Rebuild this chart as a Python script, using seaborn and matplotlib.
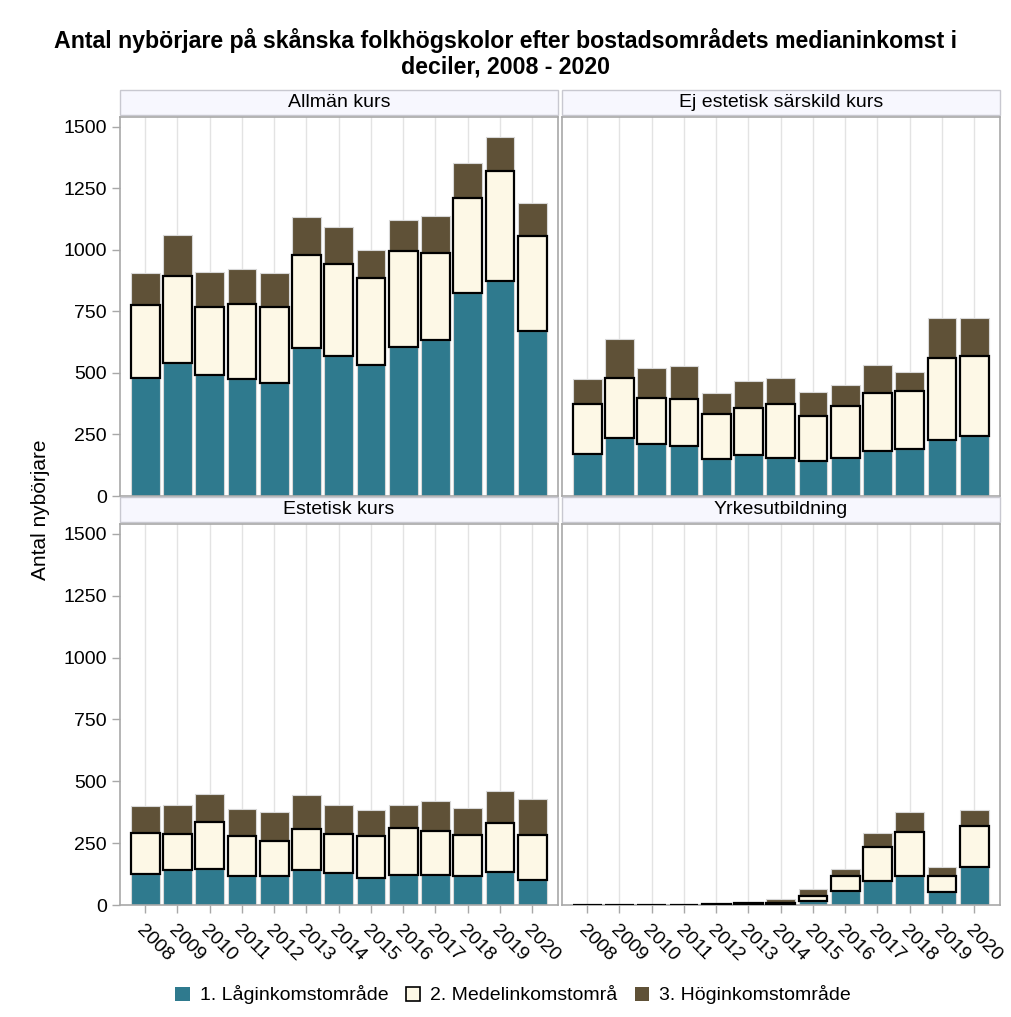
import pandas as pd
import seaborn as sns
import matplotlib.pyplot as plt
from matplotlib.patches import Patch, Rectangle

years = list(range(2008, 2021))
groups = ["1. Låginkomstområde", "2. Medelinkomstområ", "3. Höginkomstområde"]
courses = ["Allmän kurs", "Ej estetisk särskild kurs", "Estetisk kurs", "Yrkesutbildning"]

# values per group
allman_low = [478, 542, 493, 475, 460, 603, 568, 533, 607, 635, 823, 873, 672]
allman_mid = [300, 351, 275, 305, 310, 375, 374, 354, 388, 352, 387, 447, 385]
allman_high = [127, 169, 142, 142, 135, 154, 150, 113, 127, 151, 142, 140, 133]

ej_low = [172, 237, 210, 205, 152, 167, 153, 142, 155, 183, 193, 228, 245]
ej_mid = [201, 243, 190, 190, 183, 191, 222, 185, 210, 235, 232, 332, 322]
ej_high = [104, 157, 122, 133, 85, 109, 103, 95, 85, 114, 80, 162, 155]

est_low = [125, 143, 145, 117, 117, 140, 128, 108, 123, 120, 117, 133, 103]
est_mid = [165, 144, 192, 161, 143, 168, 159, 172, 189, 180, 166, 200, 180]
est_high = [112, 118, 113, 109, 115, 135, 118, 105, 93, 122, 110, 129, 144]

yrk_low = [0, 0, 0, 1, 2, 3, 3, 18, 55, 99, 119, 54, 154]
yrk_mid = [0, 0, 0, 1, 2, 4, 5, 20, 64, 135, 178, 64, 165]
yrk_high = [0, 0, 0, 1, 1, 6, 16, 27, 27, 57, 79, 35, 63]

series = {
    "Allmän kurs": [allman_low, allman_mid, allman_high],
    "Ej estetisk särskild kurs": [ej_low, ej_mid, ej_high],
    "Estetisk kurs": [est_low, est_mid, est_high],
    "Yrkesutbildning": [yrk_low, yrk_mid, yrk_high],
}

rows = []
for c in courses:
    for g, vals in zip(groups, series[c]):
        for y, v in zip(years, vals):
            rows.append({"kurs": c, "grupp": g, "year": y, "value": v})
df = pd.DataFrame(rows)

blue = "#2f7a8e"
cream = "#fdf8e6"
brown = "#5f5137"
palette = dict(zip(groups, [blue, cream, brown]))

sns.set_style("white")
plt.rcParams["font.family"] = ["Liberation Sans", "DejaVu Sans"]
plt.rcParams["text.color"] = "black"
plt.rcParams["xtick.labelcolor"] = "black"
plt.rcParams["ytick.labelcolor"] = "black"

fig = plt.figure(figsize=(10.11, 10.17), dpi=100)
W, H = 1011, 1017
boxes = [
    (120, 117, 438, 379),
    (562, 117, 438, 379),
    (120, 524, 438, 381),
    (562, 524, 438, 381),
]
strip_h = 25

for i, (c, (x0, y0, w, h)) in enumerate(zip(courses, boxes)):
    ax = fig.add_axes([x0 / W, 1 - (y0 + h) / H, w / W, h / H])
    sub = df[df["kurs"] == c]
    sns.histplot(data=sub, x="year", weights="value", hue="grupp",
                 hue_order=groups[::-1], multiple="stack", discrete=True,
                 shrink=0.89, palette=palette, alpha=1, linewidth=0.8,
                 edgecolor="#d8d8d8", legend=False, ax=ax)
    for p in ax.patches:
        fc = p.get_facecolor()
        if abs(fc[0] - 0xfd / 255) < 0.02 and abs(fc[2] - 0xe6 / 255) < 0.02:
            p.set_edgecolor("black")
            p.set_linewidth(1.6)
            p.set_zorder(3)
    ax.set_xlim(2007.22, 2020.8)
    ax.set_ylim(0, 1540)
    ax.set_xticks(years)
    ax.set_yticks([0, 250, 500, 750, 1000, 1250, 1500])
    ax.grid(axis="x", color="#e3e3e3", linewidth=1)
    ax.grid(axis="y", visible=False)
    ax.set_axisbelow(True)
    ax.set_xlabel("")
    ax.set_ylabel("")
    for s in ax.spines.values():
        s.set_color("#a8a8a8")
        s.set_linewidth(1.2)
    ax.tick_params(axis="both", length=6, width=1, color="#a8a8a8",
                   labelsize=14, direction="out", bottom=True, left=True)
    if i % 2 == 1:
        ax.tick_params(axis="y", labelleft=False, left=False)
    if i < 2:
        ax.tick_params(axis="x", labelbottom=False, bottom=False)
    else:
        ax.tick_params(axis="x", pad=6)
        for lab in ax.get_xticklabels():
            lab.set_rotation(-45)
            lab.set_ha("left")
            lab.set_va("top")
            lab.set_rotation_mode("anchor")
    # facet strip
    sh = strip_h / h
    gap = 2 / h
    ax.add_patch(Rectangle((0, 1 + gap), 1, sh, transform=ax.transAxes,
                           facecolor="#f7f7fe", edgecolor="#c8c8d0",
                           linewidth=1, clip_on=False))
    ax.text(0.5, 1 + gap + sh / 2, c, transform=ax.transAxes,
            ha="center", va="center", fontsize=14)

fig.text(0.5, 1 - 53 / H, "Antal nybörjare på skånska folkhögskolor efter bostadsområdets medianinkomst i\ndeciler, 2008 - 2020",
         ha="center", va="center", fontsize=16.7, fontweight="bold", linespacing=1.15)
fig.text(40 / W, 1 - 510 / H, "Antal nybörjare", rotation=90,
         ha="center", va="center", fontsize=15)

handles = [Patch(facecolor=blue, edgecolor="none"),
           Patch(facecolor=cream, edgecolor="black", linewidth=1.2),
           Patch(facecolor=brown, edgecolor="none")]
fig.legend(handles, groups, loc="center", bbox_to_anchor=(513 / W, 1 - 995 / H),
           ncol=3, frameon=False, fontsize=14, handlelength=0.75,
           handleheight=0.75, handletextpad=0.5, columnspacing=0.9)

fig.savefig("out.png", dpi=100)
